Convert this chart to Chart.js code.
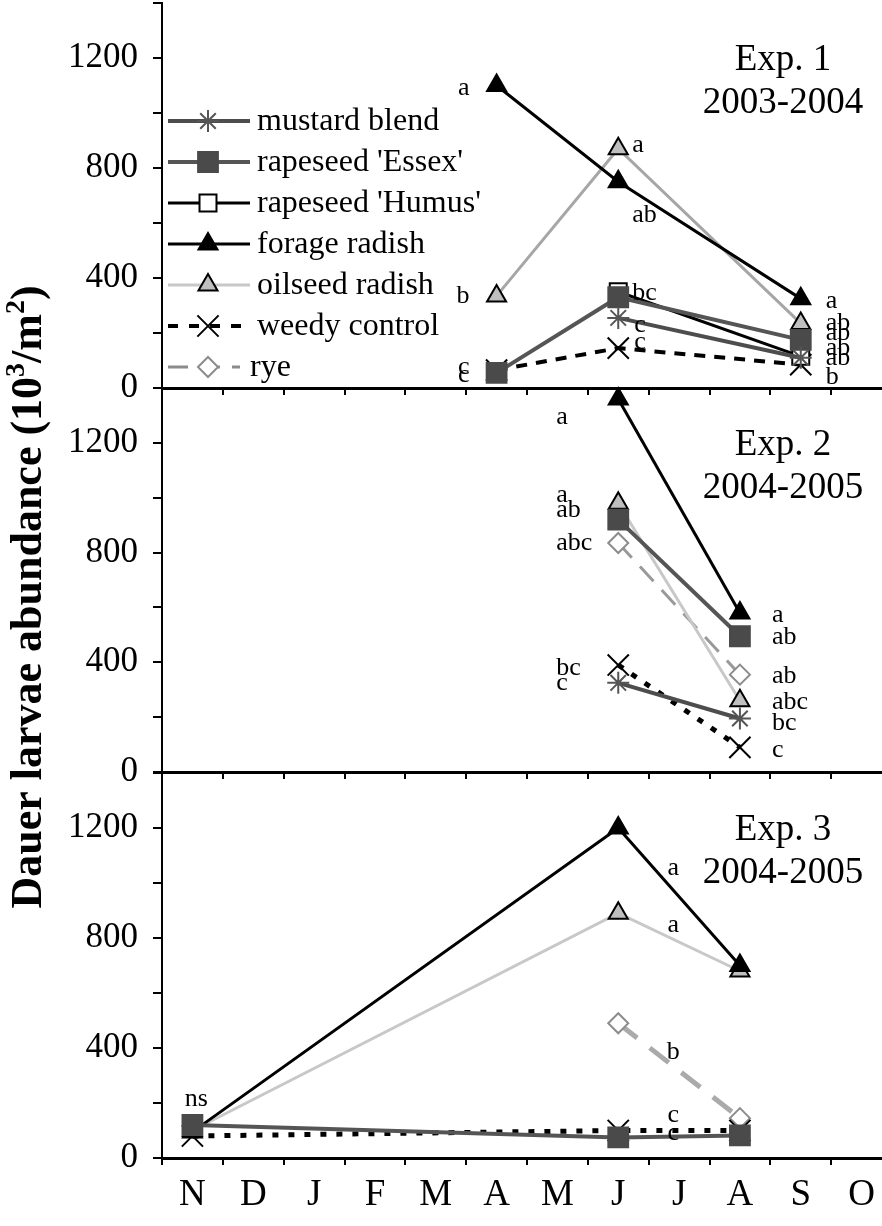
<!DOCTYPE html>
<html>
<head>
<meta charset="utf-8">
<script src="https://cdn.jsdelivr.net/npm/chart.js@4.4.0/dist/chart.umd.min.js"></script>
<style>
  html, body { margin: 0; padding: 0; background: #fff; overflow: hidden; }
  #wrap { position: relative; width: 882px; height: 1226px; overflow: hidden; }
  #wrap canvas { position: absolute; left: 0; top: 0; }
</style>
</head>
<body>
<div id="wrap">
  <canvas id="exp1" width="892" height="1226"></canvas>
  <canvas id="exp2" width="892" height="1226"></canvas>
  <canvas id="exp3" width="892" height="1226"></canvas>
</div>
<script>
// month axis, Nov -> Oct
const months = ['N', 'D', 'J', 'F', 'M', 'A', 'M', 'J', 'J', 'A', 'S', 'O'];
const yLabels = [0, 400, 800, 1200];

// Exp. 1 (2003-2004): sampled in A, J, S
const exp1Dates = [5, 7, 10];
const exp1Mustard = [null, 255, 110];
const exp1Essex = [55, 330, 175];
const exp1Humus = [null, 350, 115];
const exp1Forage = [1100, 750, 325];
const exp1Oilseed = [335, 870, 235];
const exp1Weedy = [65, 145, 85];

// Exp. 2 (2004-2005): sampled in J, A
const exp2Dates = [7, 9];
const exp2Mustard = [325, 195];
const exp2Essex = [920, 495];
const exp2Forage = [1360, 580];
const exp2Oilseed = [980, 260];
const exp2Weedy = [390, 90];
const exp2Rye = [835, 355];

// Exp. 3 (2004-2005): sampled in N, J, A
const exp3Dates = [0, 7, 9];
const exp3Essex = [120, 75, 82];
const exp3Forage = [95, 1200, 700];
const exp3Oilseed = [100, 890, 680];
const exp3Weedy = [80, 100, 100];
const exp3Rye = [null, 490, 145];

// mean separation letters
const exp1Letters = {
    mustard: [null, 'c', 'ab'],
    essex: ['c', 'bc', 'ab'],
    humus: [null, null, 'ab'],
    forage: ['a', 'ab', 'a'],
    oilseed: ['b', 'a', 'ab'],
    weedy: ['c', 'c', 'b']
};
const exp2Letters = {
    mustard: ['c', 'bc'],
    essex: ['ab', 'ab'],
    forage: ['a', 'a'],
    oilseed: ['a', 'abc'],
    weedy: ['bc', 'c'],
    rye: ['abc', 'ab']
};
const exp3Letters = {
    essex: ['ns', 'c', null],
    forage: [null, 'a', null],
    oilseed: [null, 'a', null],
    weedy: [null, 'c', null],
    rye: [null, 'b', null]
};

// letter placement next to each point: [dx, dy, align]
const exp1Nudge = {
    mustard: [null, [16, 7, 'left'], [25, 0, 'left']],
    essex: [[-27, -6, 'right'], [14, -4, 'left'], [25, -7, 'left']],
    humus: [null, null, [25, -8, 'left']],
    forage: [[-27, 3, 'right'], [14, 33, 'left'], [25, 3, 'left']],
    oilseed: [[-27, 0, 'right'], [14, -4, 'left'], [25, 0, 'left']],
    weedy: [[-27, 5, 'right'], [16, -6, 'left'], [25, 13, 'left']]
};
const exp2Nudge = {
    mustard: [[-62, 0, 'left'], [32, 5, 'left']],
    essex: [[-62, -9, 'left'], [32, 1, 'left']],
    forage: [[-62, 18, 'left'], [32, 2, 'left']],
    oilseed: [[-62, -8, 'left'], [32, 1, 'left']],
    weedy: [[-62, 3, 'left'], [32, 3, 'left']],
    rye: [[-62, 0, 'left'], [32, 2, 'left']]
};
const exp3Nudge = {
    essex: [[4, -26, 'center'], [55, -4, 'center'], null],
    forage: [null, [55, 40, 'center'], null],
    oilseed: [null, [55, 12, 'center'], null],
    weedy: [null, [55, -15, 'center'], null],
    rye: [null, [55, 29, 'center'], null]
};

// line and marker style of each treatment (legend order)
const series = {
    mustard: { label: 'mustard blend', color: '#4d4d4d', width: 4, dash: [], point: 'star', radius: 11, fill: '#555', stroke: '#555' },
    essex: { label: "rapeseed 'Essex'", color: '#555', width: 4, dash: [], point: 'rect', radius: 14, fill: '#4a4a4a', stroke: '#4a4a4a' },
    humus: { label: "rapeseed 'Humus'", color: '#000', width: 3, dash: [], point: 'rect', radius: 12, fill: '#fff', stroke: '#000' },
    forage: { label: 'forage radish', color: '#000', width: 3, dash: [], point: 'triangle', radius: 11, fill: '#000', stroke: '#000' },
    oilseed: { label: 'oilseed radish', color: '#c8c8c8', width: 3, dash: [], point: 'triangle', radius: 11, fill: '#bfbfbf', stroke: '#000' },
    weedy: { label: 'weedy control', color: '#000', width: 4, dash: [10, 11], point: 'crossRot', radius: 15, fill: '#000', stroke: '#000' },
    rye: { label: 'rye', color: '#8c8c8c', width: 3, dash: [20, 12], point: 'rectRot', radius: 10, fill: '#fff', stroke: '#8c8c8c' }
};

function spread(dates, values) {
    const out = months.map(() => null);
    dates.forEach((d, i) => { out[d] = values[i]; });
    return out;
}

function makeDataset(key, dates, values, over) {
    const s = series[key];
    return Object.assign({
        key: key,
        label: s.label,
        data: spread(dates, values),
        borderColor: s.color,
        borderWidth: s.width,
        borderDash: s.dash,
        pointStyle: s.point,
        pointRadius: s.radius,
        pointBackgroundColor: s.fill,
        pointBorderColor: s.stroke,
        pointBorderWidth: 2,
        spanGaps: true,
        tension: 0,
        clip: false
    }, over || {});
}

const serif = '"Liberation Serif", "Times New Roman", serif';

function drawSup(ctx, parts, x, y) {
    // parts: [text, font, raise]
    let total = 0;
    parts.forEach(p => { ctx.font = p[1]; total += ctx.measureText(p[0]).width; });
    let cx = x - total / 2;
    parts.forEach(p => {
        ctx.font = p[1];
        ctx.fillText(p[0], cx, y + p[2]);
        cx += ctx.measureText(p[0]).width;
    });
}

const decor = {
    id: 'decor',
    afterDatasetsDraw(chart, args, opts) {
        const ctx = chart.ctx;
        const area = chart.chartArea;
        ctx.save();
        ctx.fillStyle = '#000';
        ctx.textBaseline = 'middle';

        // experiment caption
        ctx.font = '37px ' + serif;
        ctx.textAlign = 'center';
        ctx.fillText(opts.caption[0], area.right - 109, area.top + 57);
        ctx.fillText(opts.caption[1], area.right - 109, area.top + 100);

        // letters beside the points
        ctx.font = '26px ' + serif;
        chart.data.datasets.forEach((ds, di) => {
            const lt = opts.letters[ds.key];
            if (!lt) return;
            const meta = chart.getDatasetMeta(di);
            opts.dates.forEach((d, i) => {
                if (!lt[i]) return;
                const el = meta.data[d];
                const n = opts.nudge[ds.key][i];
                ctx.textAlign = n[2];
                ctx.fillText(lt[i], el.x + n[0], el.y + n[1]);
            });
        });

        // legend: line sample + marker
        if (opts.legend) {
            Object.keys(series).forEach((k, i) => {
                const s = series[k];
                const y = area.top + 118 + i * 41;
                const x0 = area.left + 6;
                const x1 = k === 'rye' ? area.left + 78 : area.left + 88;
                ctx.save();
                ctx.strokeStyle = s.color;
                ctx.lineWidth = s.width;
                ctx.setLineDash(s.dash);
                ctx.beginPath();
                ctx.moveTo(x0, y);
                ctx.lineTo(x1, y);
                ctx.stroke();
                ctx.setLineDash([]);
                ctx.fillStyle = s.fill;
                ctx.strokeStyle = s.stroke;
                ctx.lineWidth = 2;
                Chart.helpers.drawPoint(ctx, { pointStyle: s.point, radius: s.radius, rotation: 0, borderWidth: 2 }, area.left + 46, y);
                ctx.restore();
                ctx.textAlign = 'left';
                ctx.font = '32px ' + serif;
                ctx.fillText(s.label, k === 'rye' ? area.left + 88 : area.left + 95, y + 1);
            });
        }

        // shared y axis title
        if (opts.yTitle) {
            ctx.translate(30, 597);
            ctx.rotate(-Math.PI / 2);
            ctx.textAlign = 'left';
            const big = 'bold 44px ' + serif;
            const small = 'bold 28px ' + serif;
            drawSup(ctx, [
                ['Dauer larvae abundance (10', big, 0],
                ['3', small, -13],
                ['/m', big, 0],
                ['2', small, -13],
                [')', big, 0]
            ], 0, 0);
        }
        ctx.restore();
    }
};

function buildChart(id, panel) {
    return new Chart(document.getElementById(id), {
        type: 'line',
        data: { labels: months, datasets: panel.datasets },
        options: {
            responsive: false,
            animation: false,
            events: [],
            devicePixelRatio: 1,
            layout: {
                autoPadding: false,
                padding: { top: panel.top, bottom: panel.bottom, left: 0, right: 0 }
            },
            plugins: {
                legend: { display: false },
                tooltip: { enabled: false },
                decor: panel.decor
            },
            scales: {
                x: {
                    offset: true,
                    grid: { offset: true, drawOnChartArea: false, color: '#000', lineWidth: 2, tickLength: 7 },
                    border: { color: '#000', width: 3 },
                    ticks: {
                        display: panel.showMonths,
                        color: '#000',
                        font: { family: serif, size: 37 },
                        padding: 8,
                        autoSkip: false,
                        maxRotation: 0
                    },
                    afterFit: s => {
                        s.height = panel.xHeight;
                        s.paddingLeft = 0;
                        s.paddingRight = 0;
                    }
                },
                y: {
                    min: 0,
                    max: 1400,
                    ticks: {
                        stepSize: 200,
                        callback: v => yLabels.includes(v) ? v : '',
                        color: '#000',
                        font: { family: serif, size: 35 },
                        padding: 15
                    },
                    grid: { drawOnChartArea: false, color: '#000', lineWidth: 2, tickLength: 9 },
                    border: { color: '#000', width: 2 },
                    afterFit: s => {
                        s.width = 162;
                        s.paddingTop = 0;
                        s.paddingBottom = 0;
                    }
                }
            }
        },
        plugins: [decor]
    });
}

buildChart('exp1', {
    top: 3, bottom: 828, xHeight: 10, showMonths: false,
    datasets: [
        makeDataset('mustard', exp1Dates, exp1Mustard),
        makeDataset('essex', exp1Dates, exp1Essex),
        makeDataset('humus', exp1Dates, exp1Humus),
        makeDataset('forage', exp1Dates, exp1Forage),
        makeDataset('oilseed', exp1Dates, exp1Oilseed, { borderColor: '#a6a6a6' }),
        makeDataset('weedy', exp1Dates, exp1Weedy, { borderDash: [11, 9] })
    ],
    decor: { caption: ['Exp. 1', '2003-2004'], dates: exp1Dates, letters: exp1Letters, nudge: exp1Nudge, legend: true }
});

buildChart('exp2', {
    top: 388, bottom: 444, xHeight: 10, showMonths: false,
    datasets: [
        makeDataset('mustard', exp2Dates, exp2Mustard),
        makeDataset('essex', exp2Dates, exp2Essex),
        makeDataset('forage', exp2Dates, exp2Forage),
        makeDataset('oilseed', exp2Dates, exp2Oilseed),
        makeDataset('weedy', exp2Dates, exp2Weedy, { borderWidth: 5, borderDash: [6, 10] }),
        makeDataset('rye', exp2Dates, exp2Rye, { borderColor: '#999' })
    ],
    decor: { caption: ['Exp. 2', '2004-2005'], dates: exp2Dates, letters: exp2Letters, nudge: exp2Nudge, yTitle: true }
});

buildChart('exp3', {
    top: 773, bottom: 0, xHeight: 68, showMonths: true,
    datasets: [
        makeDataset('essex', exp3Dates, exp3Essex),
        makeDataset('forage', exp3Dates, exp3Forage),
        makeDataset('oilseed', exp3Dates, exp3Oilseed),
        makeDataset('weedy', exp3Dates, exp3Weedy, { borderWidth: 5, borderDash: [6, 10] }),
        makeDataset('rye', exp3Dates, exp3Rye, { borderColor: '#aaa', borderWidth: 5, borderDash: [24, 16] })
    ],
    decor: { caption: ['Exp. 3', '2004-2005'], dates: exp3Dates, letters: exp3Letters, nudge: exp3Nudge }
});
</script>
</body>
</html>
